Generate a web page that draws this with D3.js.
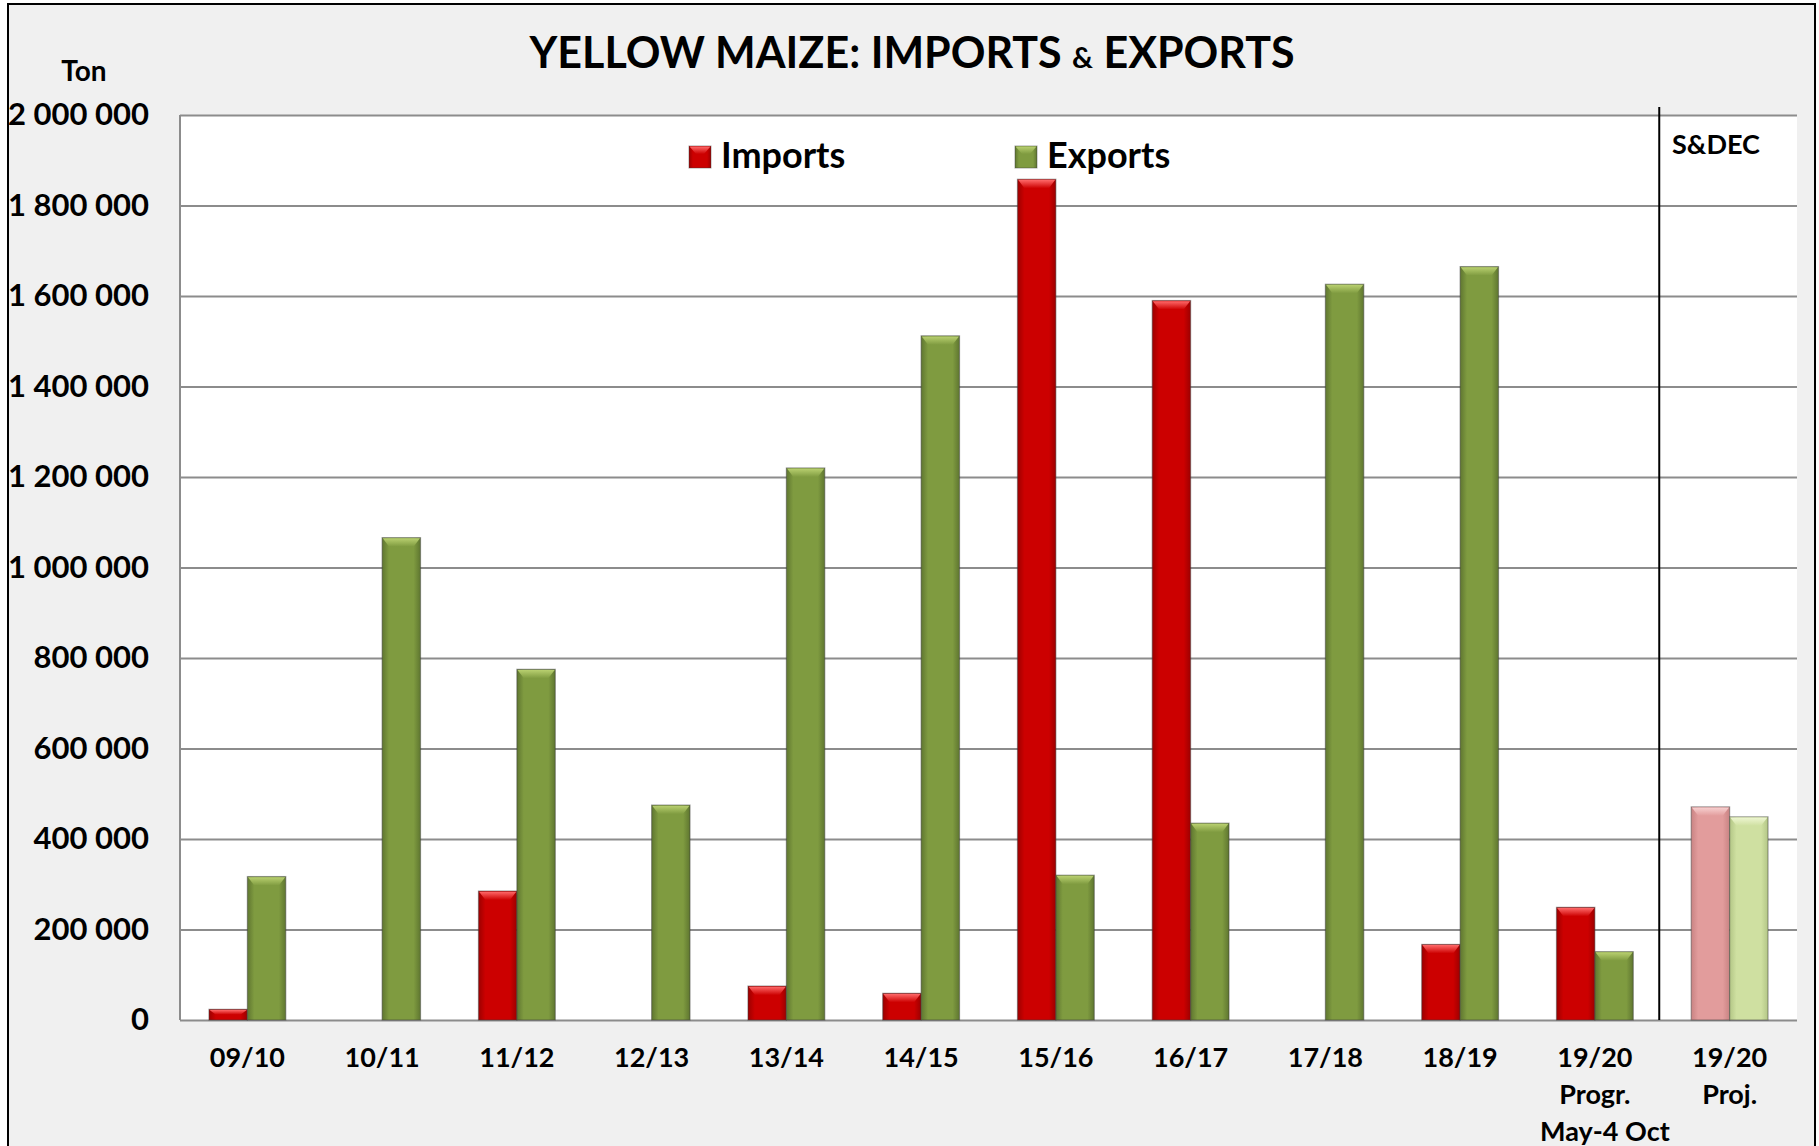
<!DOCTYPE html>
<html>
<head>
<meta charset="utf-8">
<script src="https://cdn.jsdelivr.net/npm/d3@7"></script>
<style>
  body { margin: 0; background: #fff; }
  text { font-family: Lato, "Open Sans", sans-serif; font-weight: 700; fill: #000; }
</style>
</head>
<body>
<svg id="chart"></svg>
<script>
// season labels (multi-line) and values in tons
const seasons = ['09/10', '10/11', '11/12', '12/13', '13/14', '14/15', '15/16', '16/17', '17/18', '18/19', '19/20 Progr.', '19/20 Proj.'];
const seasonLines = [['09/10'], ['10/11'], ['11/12'], ['12/13'], ['13/14'], ['14/15'], ['15/16'], ['16/17'], ['17/18'], ['18/19'], ['19/20', 'Progr.', 'May-4 Oct'], ['19/20', 'Proj.']];
const imports = [23600, 0, 285000, 0, 75000, 59000, 1858000, 1590000, 0, 167000, 249000, 471000];
const exports = [317000, 1066000, 775000, 475000, 1220000, 1512000, 320000, 435000, 1626000, 1665000, 151000, 449000];
const yTicks = [0, 200000, 400000, 600000, 800000, 1000000, 1200000, 1400000, 1600000, 1800000, 2000000];
const seriesNames = ['Imports', 'Exports'];

const width = 1819;
const height = 1146;
const margin = { left: 180, right: 22, top: 115, bottom: 126 };

const svg = d3.select('#chart')
    .attr('width', width)
    .attr('height', height);

// colours: [base, dark edge, bevel]
const palette = {
    Imports: ['#cc0000', '#9c0000', '#ff6a6a'],
    Exports: ['#7f9b40', '#5f7630', '#b9d070'],
    ImportsProj: ['#e29c9c', '#c98383', '#f7d0d0'],
    ExportsProj: ['#cfe0a1', '#b3c686', '#eef6d2']
};

const defs = svg.append('defs');
Object.entries(palette).forEach(([key, c]) => {
    const g = defs.append('linearGradient').attr('id', 'g-' + key)
        .attr('x1', 0).attr('x2', 1).attr('y1', 0).attr('y2', 0);
    g.append('stop').attr('offset', '0%').attr('stop-color', c[1]);
    g.append('stop').attr('offset', '18%').attr('stop-color', c[0]);
    g.append('stop').attr('offset', '82%').attr('stop-color', c[0]);
    g.append('stop').attr('offset', '100%').attr('stop-color', c[1]);
    const b = defs.append('linearGradient').attr('id', 'b-' + key)
        .attr('x1', 0).attr('x2', 0).attr('y1', 0).attr('y2', 1);
    b.append('stop').attr('offset', '0%').attr('stop-color', c[2]);
    b.append('stop').attr('offset', '100%').attr('stop-color', c[0]);
});

// outer frame
svg.append('rect')
    .attr('x', 8).attr('y', 4)
    .attr('width', 1807).attr('height', 1160)
    .attr('fill', '#f0f0f0')
    .attr('stroke', '#000').attr('stroke-width', 2);

const x0 = d3.scaleBand()
    .domain(seasons)
    .range([margin.left, width - margin.right])
    .padding(0);

const x1 = d3.scaleBand()
    .domain(seriesNames)
    .range([x0.bandwidth() * 0.215, x0.bandwidth() * 0.785]);

const y = d3.scaleLinear()
    .domain([0, 2000000])
    .range([height - margin.bottom, margin.top]);

// plot area
svg.append('rect')
    .attr('x', margin.left).attr('y', margin.top)
    .attr('width', width - margin.left - margin.right)
    .attr('height', y(0) - margin.top)
    .attr('fill', '#fff');

// gridlines
const grid = svg.append('g')
    .attr('transform', `translate(${margin.left},0)`)
    .call(d3.axisLeft(y).tickValues(yTicks)
        .tickSize(-(width - margin.left - margin.right))
        .tickFormat(''));
grid.select('.domain').remove();
grid.selectAll('line').attr('stroke', '#8c8c8c').attr('stroke-width', 2);

svg.append('line')
    .attr('x1', margin.left).attr('x2', margin.left)
    .attr('y1', margin.top).attr('y2', y(0))
    .attr('stroke', '#8c8c8c').attr('stroke-width', 2);

// y labels
const fmt = d => d3.format(',')(d).replace(/,/g, ' ');
const yAxis = svg.append('g')
    .attr('transform', `translate(${margin.left - 31},0)`)
    .call(d3.axisLeft(y).tickValues(yTicks).tickSize(0).tickFormat(fmt));
yAxis.select('.domain').remove();
yAxis.selectAll('text')
    .attr('x', 0)
    .style('font-size', '31px')
    .style('font-family', 'Lato, sans-serif')
    .style('font-weight', 700)
    .attr('fill', '#000');

// separator before projection
const sepX = x0('19/20 Proj.') - 3;
svg.append('line')
    .attr('x1', sepX).attr('x2', sepX)
    .attr('y1', 107).attr('y2', y(0))
    .attr('stroke', '#000').attr('stroke-width', 2);

// bars
const barData = [];
seasons.forEach((s, i) => {
    const proj = i === seasons.length - 1;
    barData.push({ season: s, series: 'Imports', value: imports[i], key: proj ? 'ImportsProj' : 'Imports' });
    barData.push({ season: s, series: 'Exports', value: exports[i], key: proj ? 'ExportsProj' : 'Exports' });
});

const bw = x1.bandwidth();
const bars = svg.append('g').selectAll('g')
    .data(barData.filter(d => d.value > 0))
    .join('g')
    .attr('transform', d => `translate(${x0(d.season) + x1(d.series)},0)`);

bars.append('rect')
    .attr('x', 0)
    .attr('y', d => y(d.value))
    .attr('width', bw)
    .attr('height', d => y(0) - y(d.value))
    .attr('fill', d => `url(#g-${d.key})`)
    .attr('stroke', 'rgba(60,60,60,0.45)')
    .attr('stroke-width', 1.2);

bars.append('path')
    .attr('d', d => {
        const t = y(d.value);
        const h = Math.min(9, (y(0) - t) / 2);
        return `M0.6,${t + 0.6}L${bw - 0.6},${t + 0.6}L${bw - 7},${t + h}L7,${t + h}Z`;
    })
    .attr('fill', d => `url(#b-${d.key})`);

// x labels
const xLab = svg.append('g').selectAll('text')
    .data(seasons)
    .join('text')
    .attr('x', d => x0(d) + x0.bandwidth() / 2)
    .attr('y', 1067)
    .attr('text-anchor', 'middle')
    .style('font-size', '27px');
xLab.each(function (d, i) {
    const t = d3.select(this);
    seasonLines[i].forEach((line, k) => {
        t.append('tspan')
            .attr('x', x0(d) + x0.bandwidth() / 2 + (k === 2 ? 10 : 0))
            .attr('dy', k === 0 ? 0 : 37)
            .text(line);
    });
});

// title
const title = svg.append('text')
    .attr('x', 912).attr('y', 68)
    .attr('text-anchor', 'middle')
    .style('font-size', '43px');
title.append('tspan').text('YELLOW MAIZE: IMPORTS ');
title.append('tspan').style('font-size', '29px').text('&');
title.append('tspan').text(' EXPORTS');

svg.append('text')
    .attr('x', 84).attr('y', 81)
    .attr('text-anchor', 'middle')
    .style('font-size', '28px')
    .text('Ton');

svg.append('text')
    .attr('x', 1716).attr('y', 154)
    .attr('text-anchor', 'middle')
    .style('font-size', '27px')
    .text('S&DEC');

// legend
const legend = svg.append('g').selectAll('g')
    .data(seriesNames)
    .join('g')
    .attr('transform', (d, i) => `translate(${[689, 1015][i]},146)`);
legend.append('rect')
    .attr('width', 22).attr('height', 22)
    .attr('fill', d => `url(#g-${d})`)
    .attr('stroke', 'rgba(60,60,60,0.45)');
legend.append('path')
    .attr('d', 'M0.5,0.5L21.5,0.5L15,8L7,8Z')
    .attr('fill', d => `url(#b-${d})`);
legend.append('text')
    .attr('x', 32).attr('y', 22)
    .style('font-size', '36px')
    .text(d => d);
</script>
</body>
</html>
